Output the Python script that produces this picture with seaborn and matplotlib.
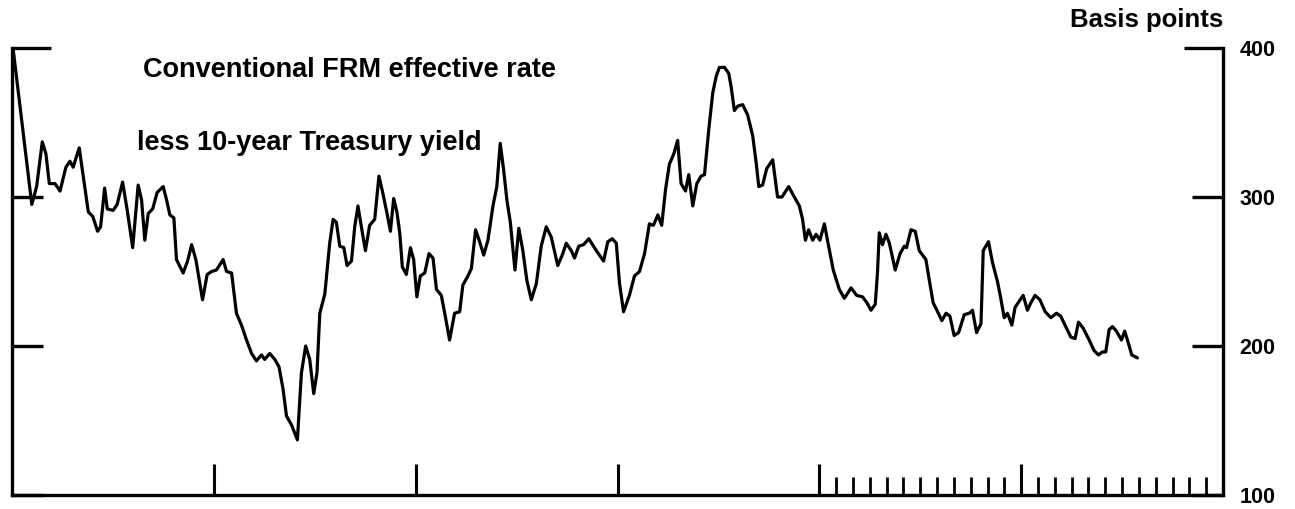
import numpy as np
import pandas as pd
import seaborn as sns
import matplotlib.pyplot as plt
from matplotlib.ticker import FixedLocator, NullFormatter

# time in years from the start of the chart, spread in basis points
years = [
    0.005, 0.098, 0.122, 0.150, 0.168, 0.185, 0.213, 0.238, 0.267, 0.287,
    0.303, 0.333, 0.356, 0.378, 0.400, 0.424, 0.439, 0.459, 0.472, 0.501,
    0.521, 0.548, 0.571, 0.598, 0.625, 0.642, 0.658, 0.675, 0.697, 0.719,
    0.749, 0.766, 0.782, 0.802, 0.815, 0.848, 0.870, 0.890, 0.911, 0.944,
    0.967, 0.989, 1.013, 1.046, 1.063, 1.088, 1.112, 1.137, 1.162, 1.187,
    1.211, 1.236, 1.252, 1.277, 1.302, 1.323, 1.343, 1.360, 1.385, 1.414,
    1.434, 1.455, 1.475, 1.495, 1.511, 1.525, 1.550, 1.574, 1.591, 1.607,
    1.624, 1.644, 1.660, 1.682, 1.698, 1.714, 1.731, 1.751, 1.772, 1.797,
    1.818, 1.835, 1.858, 1.875, 1.891, 1.907, 1.921, 1.934, 1.954, 1.974,
    1.990, 2.006, 2.023, 2.045, 2.066, 2.086, 2.103, 2.127, 2.144, 2.168,
    2.193, 2.218, 2.234, 2.259, 2.276, 2.297, 2.317, 2.337, 2.358, 2.383,
    2.402, 2.419, 2.436, 2.452, 2.469, 2.492, 2.511, 2.531, 2.551, 2.573,
    2.598, 2.622, 2.647, 2.672, 2.704, 2.729, 2.746, 2.771, 2.787, 2.808,
    2.832, 2.858, 2.895, 2.931, 2.952, 2.974, 2.994, 3.010, 3.030, 3.059,
    3.084, 3.109, 3.134, 3.158, 3.178, 3.200, 3.219, 3.238, 3.257, 3.279,
    3.298, 3.315, 3.337, 3.353, 3.373, 3.393, 3.414, 3.431, 3.452, 3.472,
    3.489, 3.505, 3.530, 3.551, 3.563, 3.579, 3.596, 3.620, 3.645, 3.670,
    3.687, 3.700, 3.719, 3.739, 3.769, 3.793, 3.815, 3.848, 3.876, 3.901,
    3.917, 3.931, 3.947, 3.967, 3.984, 4.003, 4.025, 4.046, 4.069, 4.099,
    4.124, 4.157, 4.185, 4.214, 4.236, 4.256, 4.277, 4.288, 4.297, 4.313,
    4.330, 4.347, 4.376, 4.400, 4.421, 4.432, 4.454, 4.475, 4.495, 4.528,
    4.545, 4.564, 4.586, 4.607, 4.628, 4.647, 4.668, 4.690, 4.718, 4.743,
    4.759, 4.779, 4.801, 4.812, 4.838, 4.858, 4.883, 4.899, 4.916, 4.932,
    4.954, 4.970, 4.990, 5.010, 5.031, 5.048, 5.069, 5.093, 5.119, 5.147,
    5.175, 5.196, 5.221, 5.246, 5.267, 5.284, 5.307, 5.337, 5.361, 5.383,
    5.402, 5.419, 5.436, 5.452, 5.472, 5.497, 5.513, 5.531, 5.548, 5.576,
]
spread = [
    400, 295, 307, 337, 329, 309, 309, 304, 320, 324,
    320, 333, 311, 290, 287, 277, 280, 306, 292, 291,
    295, 310, 291, 266, 308, 298, 271, 289, 292, 303,
    307, 298, 288, 286, 258, 249, 257, 268, 258, 231,
    248, 250, 251, 258, 250, 249, 222, 214, 204, 195,
    190, 194, 191, 195, 191, 186, 171, 153, 147, 137,
    182, 200, 191, 168, 182, 222, 235, 269, 285, 283,
    267, 266, 254, 257, 280, 294, 280, 264, 281, 285,
    314, 304, 289, 277, 299, 290, 276, 253, 248, 266,
    258, 233, 247, 249, 262, 259, 238, 234, 222, 204,
    222, 223, 241, 247, 252, 278, 270, 261, 271, 294,
    307, 336, 318, 298, 283, 251, 279, 264, 244, 231,
    242, 267, 280, 273, 254, 262, 269, 264, 259, 267,
    268, 272, 264, 257, 270, 272, 269, 242, 223, 234,
    247, 250, 262, 282, 281, 288, 281, 305, 322, 329,
    338, 309, 304, 315, 294, 309, 314, 315, 345, 370,
    381, 387, 387, 383, 374, 358, 361, 362, 355, 341,
    323, 307, 308, 319, 325, 300, 300, 307, 300, 294,
    285, 271, 278, 271, 275, 271, 282, 267, 251, 238,
    232, 239, 234, 233, 229, 224, 228, 249, 276, 268,
    275, 269, 251, 262, 267, 266, 278, 277, 264, 258,
    244, 229, 223, 217, 222, 220, 207, 209, 221, 222,
    224, 209, 215, 264, 270, 256, 243, 232, 219, 222,
    214, 226, 230, 234, 224, 229, 234, 231, 223, 219,
    222, 220, 213, 206, 205, 216, 212, 204, 197, 194,
    196, 196, 211, 213, 210, 204, 210, 202, 194, 192,
]
right_ticks = [100, 200, 300, 400]
year_ticks = [1, 2, 3, 4, 5]
month_ticks = [4 + m / 12 for m in range(1, 12)] + [5 + m / 12 for m in range(1, 12)]

df = pd.DataFrame({"year": years, "bp": spread})

sns.set_style("white")
plt.rcParams["font.family"] = ["Liberation Sans", "DejaVu Sans"]
plt.rcParams["text.color"] = "black"
plt.rcParams["xtick.color"] = "black"
plt.rcParams["ytick.color"] = "black"
plt.rcParams["axes.edgecolor"] = "black"

fig = plt.figure(figsize=(12.95, 5.09), dpi=100)
ax = fig.add_axes([12 / 1295, 1 - 495 / 509, (1223 - 12) / 1295, (495 - 48) / 509])

sns.lineplot(data=df, x="year", y="bp", color="black", linewidth=2.3, ax=ax)

ax.set_xlim(0, 6)
ax.set_ylim(100, 400)
ax.set_xlabel("")
ax.set_ylabel("")

ax.spines["top"].set_visible(False)
for s in ["left", "right", "bottom"]:
    ax.spines[s].set_linewidth(2.4)
    ax.spines[s].set_color("black")

ax.set_yticks(right_ticks)
ax.set_yticklabels([str(v) for v in right_ticks])
ax.tick_params(axis="y", left=True, right=True, labelleft=False, labelright=True,
               direction="in", length=22, width=2.4, pad=12, labelsize=15.5,
               colors="black")
for lab in ax.get_yticklabels():
    lab.set_fontweight("bold")
# the top tick caps the frame and is a bit longer
top_tick = ax.yaxis.get_major_ticks()[-1]
top_tick.tick1line.set_markersize(28)
top_tick.tick2line.set_markersize(28)

ax.xaxis.set_major_locator(FixedLocator(year_ticks))
ax.xaxis.set_minor_locator(FixedLocator(month_ticks))
ax.xaxis.set_major_formatter(NullFormatter())
ax.tick_params(axis="x", which="major", direction="in", length=22, width=2.2,
               bottom=True, colors="black")
ax.tick_params(axis="x", which="minor", direction="in", length=13, width=2.0,
               bottom=True, colors="black")

ax.text(0.65, 385, "Conventional FRM effective rate", fontsize=19.5, fontweight="bold",
        va="center", ha="left")
ax.text(0.62, 336, "less 10-year Treasury yield", fontsize=19.5, fontweight="bold",
        va="center", ha="left")
ax.text(6.0, 419, "Basis points", fontsize=18.5, fontweight="bold",
        va="center", ha="right", clip_on=False)

fig.savefig("out.png", dpi=100)
